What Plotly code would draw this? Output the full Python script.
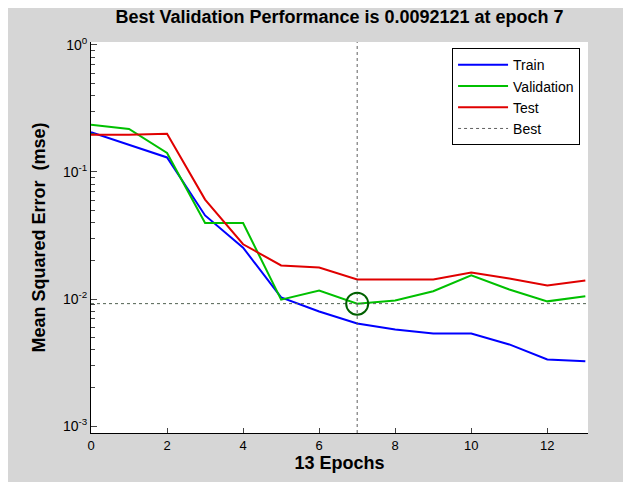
import plotly.graph_objects as go

epochs = list(range(14))
train = [0.205, 0.164, 0.130, 0.0455, 0.0254, 0.0103, 0.0080, 0.00643, 0.00577, 0.00537, 0.00537, 0.00440, 0.00335, 0.00324]
validation = [0.235, 0.218, 0.141, 0.0397, 0.0397, 0.0099, 0.0117, 0.0092121, 0.00975, 0.01153, 0.0154, 0.0119, 0.0096, 0.01054]
test = [0.196, 0.196, 0.200, 0.0606, 0.027, 0.0184, 0.0177, 0.01425, 0.01425, 0.01425, 0.0162, 0.0145, 0.0128, 0.0140]
best_epoch = 7
best_perf = 0.0092121
ytick_vals = [1e-3, 1e-2, 1e-1, 1e0]
ytick_text = ["10<sup>-3</sup>", "10<sup>-2</sup>", "10<sup>-1</sup>", "10<sup>0</sup>"]
xtick_vals = [0, 2, 4, 6, 8, 10, 12]
x_range = [0, 13.07]
y_log_range = [-3.053, 0.022]

FONT = "Liberation Sans, Arial, Helvetica, sans-serif"

fig = go.Figure()
fig.add_trace(go.Scatter(x=epochs, y=train, mode="lines", name="Train",
                         line=dict(color="#0000ff", width=2)))
fig.add_trace(go.Scatter(x=epochs, y=validation, mode="lines", name="Validation",
                         line=dict(color="#00c000", width=2)))
fig.add_trace(go.Scatter(x=epochs, y=test, mode="lines", name="Test",
                         line=dict(color="#e00000", width=2)))
fig.add_trace(go.Scatter(x=[best_epoch, best_epoch], y=[10 ** y_log_range[0], 10 ** y_log_range[1]],
                         mode="lines", name="Best",
                         line=dict(color="#606060", width=1, dash="dot")))
fig.add_trace(go.Scatter(x=[x_range[0], x_range[1]], y=[best_perf, best_perf], mode="lines",
                         showlegend=False, line=dict(color="#506050", width=1, dash="dot")))
fig.add_trace(go.Scatter(x=[best_epoch], y=[best_perf], mode="markers", showlegend=False,
                         marker=dict(symbol="circle-open", size=22, color="#006000",
                                     line=dict(width=2, color="#006000"))))

fig.update_layout(
    width=623, height=474,
    paper_bgcolor="#d6d6d6", plot_bgcolor="#ffffff",
    margin=dict(l=83, r=43, t=34, b=49),
    font=dict(family=FONT, size=13, color="#000000"),
    title=dict(text="<b>Best Validation Performance is 0.0092121 at epoch 7</b>",
               x=0.5, xref="paper", xanchor="center", y=0.981, yref="container",
               yanchor="middle", font=dict(size=18)),
    legend=dict(x=0.984, y=0.984, xanchor="right", yanchor="top",
                bgcolor="#ffffff", bordercolor="#000000", borderwidth=1,
                font=dict(size=14), tracegroupgap=0, itemwidth=50),
    showlegend=True,
)
fig.update_xaxes(range=x_range, tickvals=xtick_vals, ticks="inside", ticklen=5,
                 showgrid=False, zeroline=False, showline=True, linecolor="#000000",
                 linewidth=1, tickfont=dict(size=13),
                 title=dict(text="<b>13 Epochs</b>", font=dict(size=18), standoff=4))
fig.update_yaxes(type="log", range=y_log_range, tickvals=ytick_vals, ticktext=ytick_text,
                 ticks="inside", ticklen=6, showgrid=False, zeroline=False, showline=True,
                 linecolor="#000000", linewidth=1, tickfont=dict(size=14),
                 minor=dict(ticks="inside", ticklen=4, dtick="D1", showgrid=False),
                 title=dict(text="<b>Mean Squared Error \u00a0(mse)</b>", font=dict(size=18), standoff=12))

fig.write_html("out.html")
